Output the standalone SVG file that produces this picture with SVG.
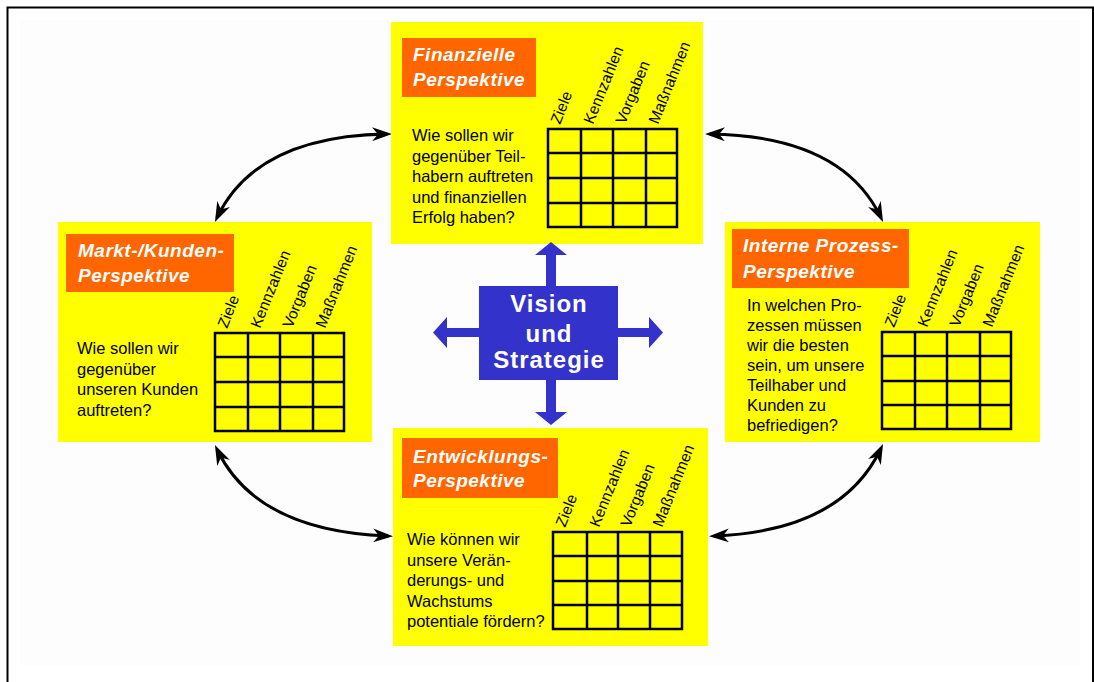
<svg xmlns="http://www.w3.org/2000/svg" width="1094" height="682" viewBox="0 0 1094 682">
<style>
.box{fill:#FFFF00}
.lbl{fill:#FF6600}
.title{font-family:"Liberation Sans",Arial,sans-serif;font-weight:bold;font-style:italic;font-size:19px;letter-spacing:0.5px;fill:#FFFFFF}
.body{font-family:"Liberation Sans",Arial,sans-serif;font-size:16.5px;fill:#000000}
.col{font-family:"Liberation Sans",Arial,sans-serif;font-size:15.5px;fill:#000000}
.grid{fill:none;stroke:#000000;stroke-width:2.5}
.conn{fill:none;stroke:#000000;stroke-width:3}
.center{fill:#3333CC}
.ctext{font-family:"Liberation Sans",Arial,sans-serif;font-weight:bold;font-size:24px;letter-spacing:1px;fill:#FFFFFF;text-anchor:middle}
</style>
<defs>
<marker id="ah" viewBox="0 0 20 14" refX="15" refY="7" markerWidth="20" markerHeight="14" markerUnits="userSpaceOnUse" orient="auto-start-reverse">
<path d="M0,0 L20,7 L0,14 L6,7 Z" fill="#000000"/>
</marker>
</defs>
<rect x="0" y="0" width="1094" height="682" fill="#FFFFFF"/>
<rect x="20" y="20" width="1060" height="645" fill="#FDFDFD"/>
<path d="M7.5 690 V7.5 H1093 V690" fill="none" stroke="#000000" stroke-width="2"/>

<g id="connectors">
<path class="conn" d="M217.1 217.5 Q256 136 387 134" marker-start="url(#ah)" marker-end="url(#ah)"/>
<path class="conn" d="M710 134 Q842 136 880.9 217.5" marker-start="url(#ah)" marker-end="url(#ah)"/>
<path class="conn" d="M217.1 449.5 Q256 531 388 536" marker-start="url(#ah)" marker-end="url(#ah)"/>
<path class="conn" d="M714 536 Q842 531 880.9 448.5" marker-start="url(#ah)" marker-end="url(#ah)"/>
</g>

<g id="finanzielle">
<rect class="box" x="391" y="22" width="312" height="222"/>
<rect class="lbl" x="402" y="38" width="134" height="59"/>
<text class="title" x="413" y="61">Finanzielle</text>
<text class="title" x="413" y="86">Perspektive</text>
<text class="body" x="412" y="141">Wie sollen wir</text>
<text class="body" x="412" y="161.5">gegenüber Teil-</text>
<text class="body" x="412" y="182">habern auftreten</text>
<text class="body" x="412" y="202.5">und finanziellen</text>
<text class="body" x="412" y="223">Erfolg haben?</text>
<path class="grid" d="M548 129 H677 V227 H548 Z M581 129 V227 M613 129 V227 M646 129 V227 M548 153 H677 M548 178 H677 M548 203 H677"/>
<text class="col" transform="translate(560 125) rotate(-68)">Ziele</text>
<text class="col" transform="translate(593 125) rotate(-68)">Kennzahlen</text>
<text class="col" transform="translate(625 125) rotate(-68)">Vorgaben</text>
<text class="col" transform="translate(658 125) rotate(-68)">Maßnahmen</text>
</g>

<g id="markt">
<rect class="box" x="58" y="222" width="314" height="220"/>
<rect class="lbl" x="66" y="234" width="168" height="58"/>
<text class="title" x="78" y="257">Markt-/Kunden-</text>
<text class="title" x="78" y="282">Perspektive</text>
<text class="body" x="77" y="354">Wie sollen wir</text>
<text class="body" x="77" y="374.5">gegenüber</text>
<text class="body" x="77" y="395">unseren Kunden</text>
<text class="body" x="77" y="415.5">auftreten?</text>
<path class="grid" d="M215 333 H344 V431 H215 Z M248 333 V431 M280 333 V431 M313 333 V431 M215 357 H344 M215 382 H344 M215 407 H344"/>
<text class="col" transform="translate(227 329) rotate(-68)">Ziele</text>
<text class="col" transform="translate(260 329) rotate(-68)">Kennzahlen</text>
<text class="col" transform="translate(292 329) rotate(-68)">Vorgaben</text>
<text class="col" transform="translate(325 329) rotate(-68)">Maßnahmen</text>
</g>

<g id="interne">
<rect class="box" x="725" y="222" width="315" height="220"/>
<rect class="lbl" x="732" y="229" width="177" height="59"/>
<text class="title" x="743" y="252">Interne Prozess-</text>
<text class="title" x="743" y="278">Perspektive</text>
<text class="body" x="747" y="310.5">In welchen Pro-</text>
<text class="body" x="747" y="330.5">zessen müssen</text>
<text class="body" x="747" y="350.5">wir die besten</text>
<text class="body" x="747" y="370.5">sein, um unsere</text>
<text class="body" x="747" y="390.5">Teilhaber und</text>
<text class="body" x="747" y="410.5">Kunden zu</text>
<text class="body" x="747" y="430.5">befriedigen?</text>
<path class="grid" d="M882 332 H1011 V429 H882 Z M915 332 V429 M947 332 V429 M980 332 V429 M882 356 H1011 M882 381 H1011 M882 405 H1011"/>
<text class="col" transform="translate(894 328) rotate(-68)">Ziele</text>
<text class="col" transform="translate(927 328) rotate(-68)">Kennzahlen</text>
<text class="col" transform="translate(959 328) rotate(-68)">Vorgaben</text>
<text class="col" transform="translate(992 328) rotate(-68)">Maßnahmen</text>
</g>

<g id="entwicklung">
<rect class="box" x="393" y="428" width="315" height="218"/>
<rect class="lbl" x="402" y="438" width="156" height="60"/>
<text class="title" x="413" y="463">Entwicklungs-</text>
<text class="title" x="413" y="487">Perspektive</text>
<text class="body" x="407" y="545">Wie können wir</text>
<text class="body" x="407" y="565.5">unsere Verän-</text>
<text class="body" x="407" y="586">derungs- und</text>
<text class="body" x="407" y="606.5">Wachstums</text>
<text class="body" x="407" y="627">potentiale fördern?</text>
<path class="grid" d="M553 532 H682 V629 H553 Z M587 532 V629 M618 532 V629 M650 532 V629 M553 556 H682 M553 581 H682 M553 605 H682"/>
<text class="col" transform="translate(565 528) rotate(-68)">Ziele</text>
<text class="col" transform="translate(599 528) rotate(-68)">Kennzahlen</text>
<text class="col" transform="translate(630 528) rotate(-68)">Vorgaben</text>
<text class="col" transform="translate(662 528) rotate(-68)">Maßnahmen</text>
</g>

<g id="vision">
<polygon class="center" points="546,287 546,255 535,255 551,242 567,255 556,255 556,287"/>
<polygon class="center" points="546,379 546,412 535,412 551,425 567,412 556,412 556,379"/>
<polygon class="center" points="480,328 447,328 447,317 433,332.5 447,348 447,337 480,337"/>
<polygon class="center" points="617,328 649,328 649,317 663,332.5 649,348 649,337 617,337"/>
<rect class="center" x="479" y="286" width="139" height="94"/>
<text class="ctext" x="549" y="312">Vision</text>
<text class="ctext" x="549" y="342">und</text>
<text class="ctext" x="549" y="368">Strategie</text>
</g>
</svg>
